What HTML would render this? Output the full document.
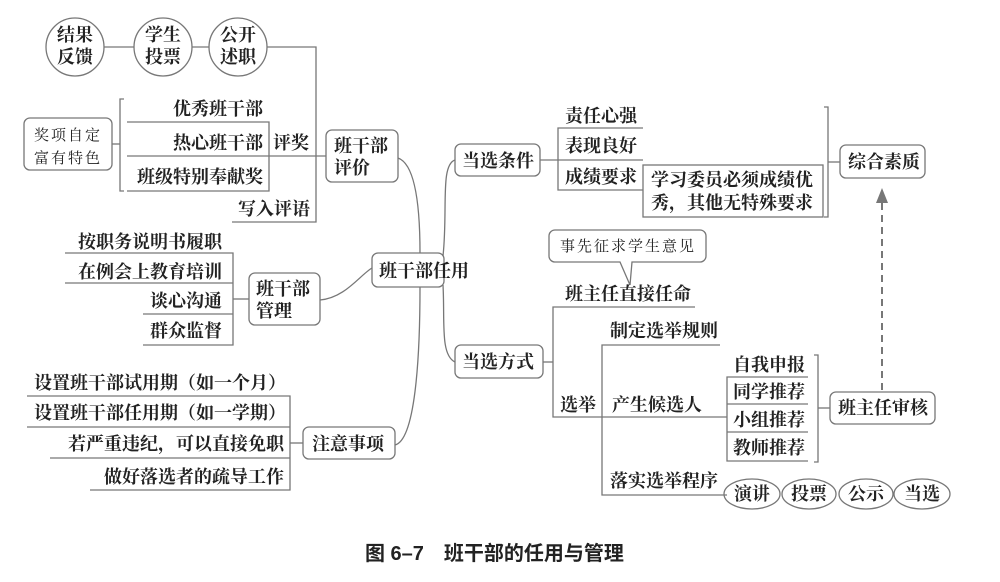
<!DOCTYPE html>
<html><head><meta charset="utf-8"><style>
body{margin:0;background:#fff}
svg{display:block}
text{font-family:"Liberation Serif","Noto Serif CJK SC",serif;font-size:18px;font-weight:bold;fill:#222}
.s{font-size:15px;font-weight:normal;letter-spacing:2px}
</style></head><body>
<svg width="1000" height="582" viewBox="0 0 1000 582" xmlns="http://www.w3.org/2000/svg">
<g stroke="#777" stroke-width="1.3" fill="none">
<circle cx="75" cy="47" r="29"/><circle cx="163" cy="47" r="29"/><circle cx="238" cy="47" r="29"/>
<line x1="104" y1="47" x2="134" y2="47"/><line x1="192" y1="47" x2="209" y2="47"/>
<polyline points="267,47 316,47 316,222 232,222"/>
<rect x="24" y="118" width="88" height="52" rx="6"/>
<polyline points="124,99 120,99 120,191 124,191"/><line x1="112" y1="144" x2="120" y2="144"/>
<polyline points="127,122 269,122 269,191 127,191"/>
<line x1="127" y1="156" x2="326" y2="156"/>
<rect x="326" y="130" width="72" height="52" rx="6"/>
<rect x="372" y="253" width="72" height="34" rx="6"/>
<path d="M398,158 C418,165 420,220 420,253"/>
<path d="M320,300 C345,298 360,275 372,268"/>
<path d="M395,445 C415,440 420,360 420,287"/>
<path d="M443,256 C448,210 440,165 455,160"/>
<path d="M443,285 C445,320 440,355 455,362"/>
<rect x="249" y="273" width="71" height="52" rx="6"/>
<polyline points="65,253 233,253 233,345 143,345"/><line x1="65" y1="283" x2="233" y2="283"/><line x1="143" y1="314" x2="233" y2="314"/><line x1="233" y1="299" x2="249" y2="299"/>
<rect x="303" y="427" width="92" height="32" rx="6"/>
<polyline points="27,396 290,396 290,490 90,490"/><line x1="27" y1="427" x2="290" y2="427"/><line x1="50" y1="458" x2="290" y2="458"/><line x1="290" y1="443" x2="303" y2="443"/>
<rect x="455" y="144" width="85" height="32" rx="6"/>
<line x1="540" y1="160" x2="643" y2="160"/>
<polyline points="643,128 558,128 558,190 643,190"/>
<rect x="643" y="165" width="180" height="52"/>
<polyline points="824,107 828,107 828,217 824,217"/><line x1="828" y1="162" x2="840" y2="162"/>
<rect x="840" y="145" width="85" height="33" rx="6"/>
<line x1="882" y1="390" x2="882" y2="198" stroke-dasharray="7,5" stroke-width="2"/>
<path d="M555,230 h145 a6,6 0 0 1 6,6 v20 a6,6 0 0 1 -6,6 h-68 l-2,23 l-10,-23 h-65 a6,6 0 0 1 -6,-6 v-20 a6,6 0 0 1 6,-6z" fill="#fff"/>
<rect x="455" y="345" width="88" height="33" rx="6"/>
<line x1="543" y1="362" x2="553" y2="362"/>
<polyline points="695,307 553,307 553,417 727,417"/>
<polyline points="720,345 602,345 602,495 727,495"/>
<polyline points="808,377 727,377 727,461 808,461"/>
<line x1="727" y1="404" x2="808" y2="404"/><line x1="727" y1="432" x2="808" y2="432"/>
<polyline points="814,355 818,355 818,462 814,462"/><line x1="818" y1="408" x2="830" y2="408"/>
<rect x="830" y="392" width="105" height="32" rx="6"/>
<ellipse cx="752" cy="494" rx="28" ry="15"/><ellipse cx="809" cy="494" rx="27" ry="15"/><ellipse cx="866" cy="494" rx="27" ry="15"/><ellipse cx="922" cy="494" rx="28" ry="15"/>
</g>
<polygon points="882,188 876,203 888,203" fill="#777"/>
<text x="75" y="41" text-anchor="middle">结果</text><text x="75" y="63" text-anchor="middle">反馈</text>
<text x="163" y="41" text-anchor="middle">学生</text><text x="163" y="63" text-anchor="middle">投票</text>
<text x="238" y="41" text-anchor="middle">公开</text><text x="238" y="63" text-anchor="middle">述职</text>
<text class="s" x="68" y="140" text-anchor="middle">奖项自定</text><text class="s" x="68" y="163" text-anchor="middle">富有特色</text>
<text x="263" y="115" text-anchor="end">优秀班干部</text>
<text x="263" y="149" text-anchor="end">热心班干部</text>
<text x="263" y="183" text-anchor="end">班级特别奉献奖</text>
<text x="273" y="149">评奖</text>
<text x="310" y="215" text-anchor="end">写入评语</text>
<text x="334" y="152">班干部</text><text x="334" y="174">评价</text>
<text x="379" y="277">班干部任用</text>
<text x="222" y="248" text-anchor="end">按职务说明书履职</text>
<text x="222" y="278" text-anchor="end">在例会上教育培训</text>
<text x="222" y="307" text-anchor="end">谈心沟通</text>
<text x="222" y="337" text-anchor="end">群众监督</text>
<text x="256" y="295">班干部</text><text x="256" y="317">管理</text>
<text x="286" y="389" text-anchor="end">设置班干部试用期（如一个月）</text>
<text x="286" y="419" text-anchor="end">设置班干部任用期（如一学期）</text>
<text x="284" y="450" text-anchor="end">若严重违纪，可以直接免职</text>
<text x="284" y="483" text-anchor="end">做好落选者的疏导工作</text>
<text x="312" y="450">注意事项</text>
<text x="462" y="167">当选条件</text>
<text x="565" y="122">责任心强</text>
<text x="565" y="152">表现良好</text>
<text x="565" y="183">成绩要求</text>
<text x="651" y="186">学习委员必须成绩优</text><text x="651" y="209">秀，其他无特殊要求</text>
<text x="848" y="168">综合素质</text>
<text class="s" x="560" y="251">事先征求学生意见</text>
<text x="565" y="300">班主任直接任命</text>
<text x="462" y="368">当选方式</text>
<text x="560" y="411">选举</text>
<text x="610" y="337">制定选举规则</text>
<text x="612" y="411">产生候选人</text>
<text x="610" y="487">落实选举程序</text>
<text x="733" y="371">自我申报</text>
<text x="733" y="398">同学推荐</text>
<text x="733" y="426">小组推荐</text>
<text x="733" y="454">教师推荐</text>
<text x="838" y="414">班主任审核</text>
<text x="752" y="500" text-anchor="middle">演讲</text><text x="809" y="500" text-anchor="middle">投票</text><text x="866" y="500" text-anchor="middle">公示</text><text x="922" y="500" text-anchor="middle">当选</text>
<text x="365" y="560" style="font-family:'Liberation Sans','Noto Sans CJK SC',sans-serif;font-size:20px">图 6–7　班干部的任用与管理</text>
</svg>
</body></html>
